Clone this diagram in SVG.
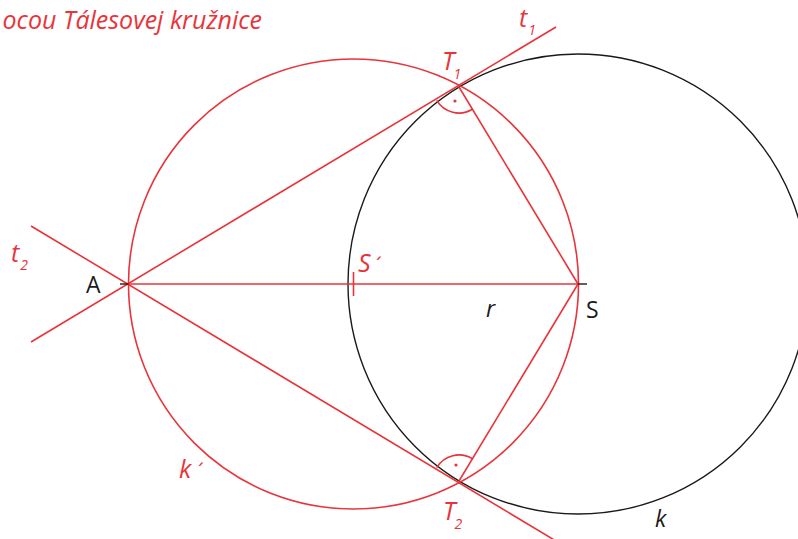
<svg xmlns="http://www.w3.org/2000/svg" width="798" height="539" viewBox="0 0 798 539">
<style>
.r{stroke:#e8343a;stroke-width:1.6;fill:none}
.b{stroke:#1a1a1a;stroke-width:1.4;fill:none}
.tr{fill:#e8343a;font-family:"Open Sans","Liberation Sans",sans-serif;font-style:italic;font-size:25px}
.tb{fill:#1a1a1a;font-family:"Open Sans","Liberation Sans",sans-serif;font-size:23px}
.sub{font-size:14px}
.acc{font-family:"DejaVu Sans",sans-serif;font-style:normal}
</style>
<rect width="798" height="539" fill="#fff"/>
<text class="tr" x="262" y="29" text-anchor="end">ocou Tálesovej kružnice</text>
<g id="k"><circle class="b" cx="578" cy="284" r="230"/></g>
<g id="k-thales"><circle class="r" cx="353.5" cy="284" r="225"/></g>
<g id="connectors">
<line class="r" x1="31" y1="342" x2="556" y2="27"/>
<line class="r" x1="31" y1="226" x2="556" y2="541"/>
<line class="r" x1="128.5" y1="284" x2="578" y2="284"/>
<line class="r" x1="459" y1="87" x2="578" y2="284"/>
<line class="r" x1="459" y1="481" x2="578" y2="284"/>
<line class="r" x1="353.5" y1="272" x2="353.5" y2="296"/>
<line class="b" x1="120" y1="284" x2="128.5" y2="284"/>
<line class="b" x1="578" y1="284" x2="587" y2="284"/>
<path class="r" d="M472.4 109.3 A26 26 0 0 1 436.7 100.4"/>
<path class="r" d="M472.4 458.7 A26 26 0 0 0 436.7 467.6"/>
<circle cx="455" cy="101" r="1.6" fill="#e8343a"/>
<circle cx="456" cy="465" r="1.6" fill="#e8343a"/>
</g>
<g id="A"><text class="tb" x="86" y="293">A</text></g>
<g id="S"><text class="tb" x="586" y="318">S</text></g>
<g id="S2"><text class="tr" x="358" y="272">S<tspan class="acc" x="373" font-size="20">´</tspan></text></g>
<g id="r"><text class="tb" x="486" y="317" font-style="italic">r</text></g>
<g id="T1"><text class="tr" x="442" y="70">T<tspan class="sub" dx="-1" dy="9">1</tspan></text></g>
<g id="t1"><text class="tr" x="519" y="27">t<tspan class="sub" dx="1" dy="8">1</tspan></text></g>
<g id="t2"><text class="tr" x="11" y="262">t<tspan class="sub" dx="1" dy="8">2</tspan></text></g>
<g id="T2"><text class="tr" x="443" y="520">T<tspan class="sub" dx="-1" dy="9">2</tspan></text></g>
<g id="k1"><text class="tr" x="179" y="478">k<tspan class="acc" x="195" font-size="20">´</tspan></text></g>
<g id="klabel"><text class="tb" x="655" y="527" font-style="italic">k</text></g>
</svg>
